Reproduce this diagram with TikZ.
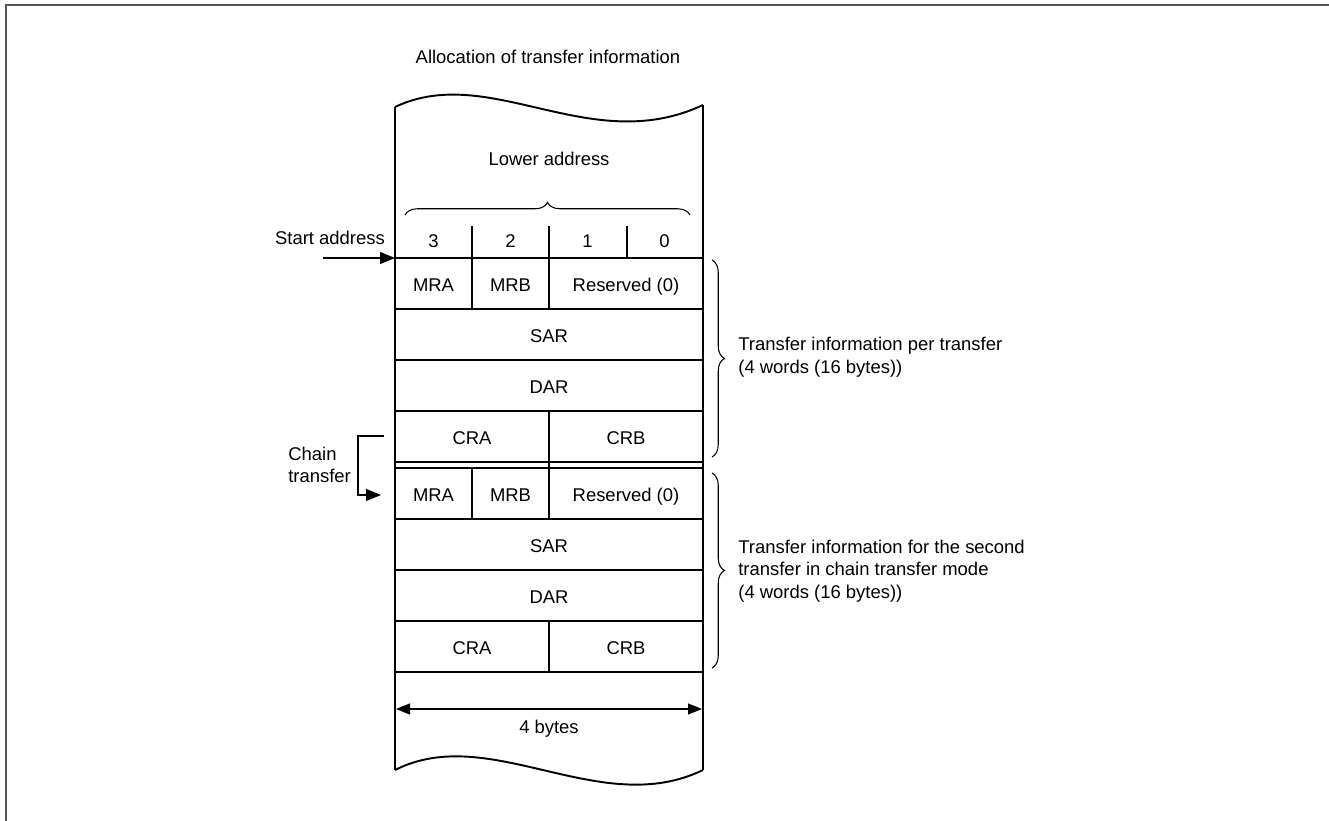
\documentclass[tikz,border=0pt]{standalone}
\usepackage{fontspec}
\setmainfont{Liberation Sans}
\usetikzlibrary{arrows.meta, decorations.pathreplacing, calc}
\definecolor{FrameGray}{RGB}{85, 85, 85}
\tikzset{
  lbl/.style={font=\fontsize{10.5pt}{12.8pt}\selectfont, inner sep=0pt},
  celltxt/.style={lbl, text height=7.5pt, text depth=0pt},
  cellline/.style={line width=0.6pt, black},
  edge/.style={line width=1.1pt, black},
  ptr/.style={-{Triangle[length=0.3cm, width=0.24cm]}, line width=0.6pt},
  span/.style={{Triangle[length=0.28cm, width=0.22cm]}-{Triangle[length=0.28cm, width=0.22cm]},
    line width=0.6pt},
  brc/.style={decorate, decoration={brace, amplitude=0.25cm}, line width=0.6pt},
}

\begin{document}
\begin{tikzpicture}[x=0.02cm, y=-0.02cm]
  \useasboundingbox (0,0) rectangle (1329,821);
  % outer frame, open to the right and bottom
  \draw[FrameGray, line width=1.1pt] (6,821) -- (6,5) -- (1329,5);

  \node[celltxt] (title) at (548,56.5) {Allocation of transfer information};

  % memory column with torn top and bottom
  \draw[edge] (395,107) .. controls (490,62) and (590,158) .. (703,105);
  \draw[edge] (395,770) .. controls (490,722) and (600,820) .. (703,770);
  \draw[edge] (395,107) -- (395,770);
  \draw[edge] (703,105) -- (703,770);

  \node[celltxt] (lower) at (549,159) {Lower address};
  \draw[brc] (405,215) -- (690,215);

  % byte numbers
  \foreach \b/\x in {3/433.5, 2/510.5, 1/587.5, 0/664.5}
    \node[celltxt] (byte\b) at (\x,240.5) {\b};
  \foreach \x in {472,549,627}
    \draw[cellline] (\x,226) -- (\x,258);

  % two blocks of transfer information
  \foreach \blk/\y in {1/258, 2/468}{
    \foreach \r in {0,1,2,3,4}
      \draw[cellline] (395,\y+\r*51) -- (703,\y+\r*51);
    \draw[cellline] (472,\y) -- (472,\y+51);
    \draw[cellline] (549,\y) -- (549,\y+51);
    \draw[cellline] (549,\y+153) -- (549,\y+204);
    \node[celltxt] (mra\blk) at (433.5,\y+26.5) {MRA};
    \node[celltxt] (mrb\blk) at (510.5,\y+26.5) {MRB};
    \node[celltxt] (res\blk) at (626,\y+26.5) {Reserved (0)};
    \node[celltxt] (sar\blk) at (549,\y+77.5) {SAR};
    \node[celltxt] (dar\blk) at (549,\y+128.5) {DAR};
    \node[celltxt] (cra\blk) at (472,\y+179.5) {CRA};
    \node[celltxt] (crb\blk) at (626,\y+179.5) {CRB};
  }
  \draw[cellline] (549,462) -- (549,468);

  % start address pointer
  \node[celltxt] (start) at (330,237.5) {Start address};
  \coordinate (startTail) at (323,258);
  \coordinate (startHead) at (395,258);
  \draw[ptr] (startTail) -- (startHead);

  % chain transfer pointer
  \node[lbl, align=left, anchor=west] (chain) at (288,465) {Chain\\transfer};
  \coordinate (chainOut) at (384,436);
  \coordinate (chainIn) at (381,495);
  \draw[ptr] (chainOut) -- ++(-26,0) |- (chainIn);

  % width of one word
  \coordinate (spanL) at (396,709);
  \coordinate (spanR) at (702,709);
  \draw[span] (spanL) -- (spanR);
  \node[celltxt] (bytes) at (549,726.5) {4 bytes};

  % block braces
  \draw[brc] (712,260) -- (712,457);
  \node[lbl, align=left, anchor=west] (info1) at (738,357)
    {Transfer information per transfer\\(4 words (16 bytes))};
  \draw[brc] (712,473) -- (712,668);
  \node[lbl, align=left, anchor=west] (info2) at (738,571)
    {Transfer information for the second\\transfer in chain transfer mode\\(4 words (16 bytes))};
\end{tikzpicture}
\end{document}
